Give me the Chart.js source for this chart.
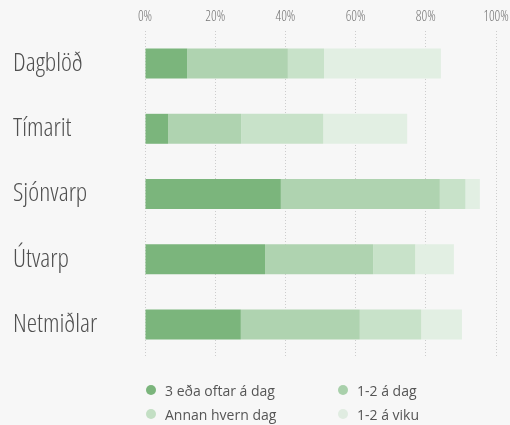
<!DOCTYPE html>
<html>
<head>
<meta charset="utf-8">
<script src="https://cdn.jsdelivr.net/npm/chart.js@4.4.1/dist/chart.umd.min.js"></script>
<style>
  html, body { margin: 0; padding: 0; background: #f7f7f7; }
  #wrap { position: relative; width: 510px; height: 425px; }
  canvas { display: block; }
  #legend { position: absolute; left: 0; top: 0; width: 510px; height: 425px; pointer-events: none;
            font-family: "Open Sans", Lato, sans-serif; font-size: 14px; color: #555; }
  .item { position: absolute; display: flex; align-items: center; height: 20px; white-space: nowrap; }
  .dot { width: 10px; height: 10px; border-radius: 50%; margin-right: 9px; flex: none; }
</style>
</head>
<body>
<div id="wrap">
  <canvas id="c" width="510" height="425"></canvas>
  <div id="legend"></div>
</div>
<script>
const categories = ['Dagblöð', 'Tímarit', 'Sjónvarp', 'Útvarp', 'Netmiðlar'];
const seriesNames = ['3 eða oftar á dag', '1-2 á dag', 'Annan hvern dag', '1-2 á viku'];
const oftenDaily = [12.0, 6.6, 38.7, 34.2, 27.3];
const onceTwiceDaily = [28.7, 20.8, 45.3, 30.8, 33.9];
const everyOtherDay = [10.3, 23.4, 7.3, 12.0, 17.5];
const onceTwiceWeekly = [33.3, 23.9, 4.1, 11.0, 11.6];
const xTickLabels = ['0%', '20%', '40%', '60%', '80%', '100%'];

const colors = ['#7bb57c', '#afd3b0', '#c8e2c9', '#e2efe3'];
const legendColors = ['#7bb57c', '#a9d0ab', '#c3dfc4', '#e0ece1'];
const seriesValues = [oftenDaily, onceTwiceDaily, everyOtherDay, onceTwiceWeekly];

const condensed = '"Open Sans", sans-serif';

new Chart(document.getElementById('c'), {
  type: 'bar',
  data: {
    labels: categories,
    datasets: seriesValues.map((vals, i) => ({
      label: seriesNames[i],
      data: vals,
      backgroundColor: colors[i],
      borderWidth: 0,
      barPercentage: 0.46,
      categoryPercentage: 1
    }))
  },
  options: {
    indexAxis: 'y',
    responsive: false,
    animation: false,
    devicePixelRatio: 1,
    layout: { padding: { left: 13, right: 14, top: 0, bottom: 68 } },
    plugins: { legend: { display: false }, tooltip: { enabled: false } },
    scales: {
      x: {
        position: 'top',
        stacked: true,
        min: 0, max: 100,
        ticks: {
          stepSize: 20,
          color: '#777',
          font: { family: condensed, size: 14, weight: '300 condensed' },
          padding: 6,
          callback: (v) => xTickLabels[Math.round(v / 20)]
        },
        grid: { color: '#cdcdcd', drawTicks: false, lineWidth: 1 },
        border: { display: false, dash: [1, 2] },
        afterFit: (s) => { s.height = 31; s.paddingLeft = 0; s.paddingRight = 0; }
      },
      y: {
        stacked: true,
        grid: { display: false },
        border: { display: false },
        ticks: {
          crossAlign: 'far',
          color: '#505050',
          font: { family: condensed, size: 26, weight: '300 condensed' },
          padding: 0
        },
        afterFit: (s) => { s.width = 132; }
      }
    }
  }
});

// 2x2 legend
const legend = document.getElementById('legend');
const colX = [146, 338];
const rowY = [380, 404];
seriesNames.forEach((name, i) => {
  const el = document.createElement('div');
  el.className = 'item';
  el.style.left = colX[i % 2] + 'px';
  el.style.top = rowY[Math.floor(i / 2)] + 'px';
  const dot = document.createElement('span');
  dot.className = 'dot';
  dot.style.background = legendColors[i];
  const txt = document.createElement('span');
  txt.textContent = name;
  el.appendChild(dot);
  el.appendChild(txt);
  legend.appendChild(el);
});
</script>
</body>
</html>
